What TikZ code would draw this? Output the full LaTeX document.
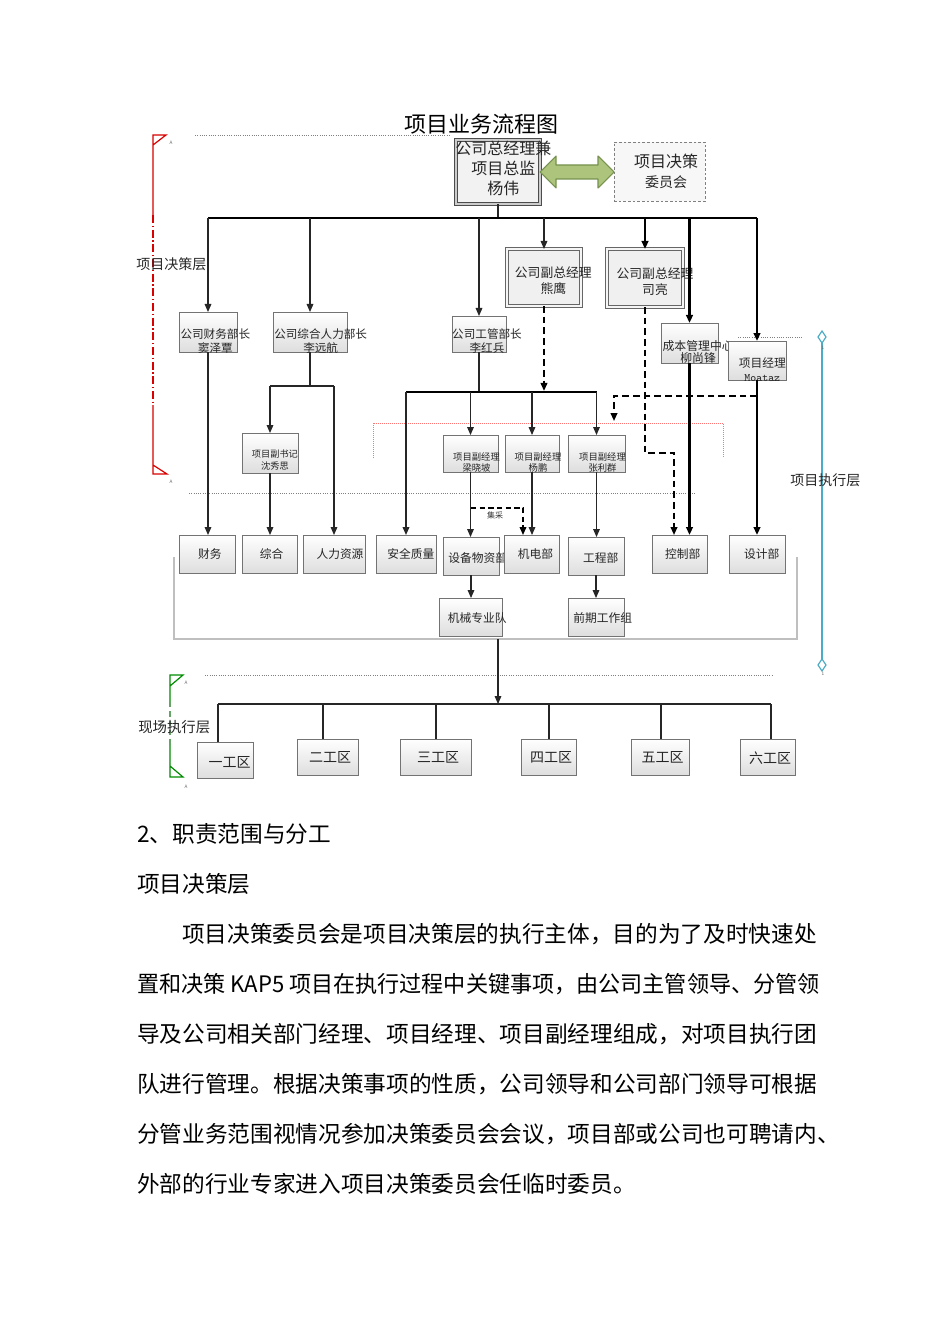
\documentclass[tikz,border=0pt]{standalone}
\usepackage{fontspec}
\setmainfont{Noto Sans CJK SC}
\usetikzlibrary{arrows.meta,fit,calc}
\definecolor{skyline}{RGB}{75,172,198}
\definecolor{olivefill}{RGB}{172,196,124}
\definecolor{olivedraw}{RGB}{118,146,78}
\newcommand\fs[2]{\fontsize{#1}{#2}\selectfont}
% style, name, x1, y1, x2, y2, label options, text
\newcommand\mkbox[8]{\node[#1, fit={(#3,#4)(#5,#6)}, label={[lbl,#7]center:#8}] (#2) {};}
\begin{document}
\begin{tikzpicture}[x=0.75pt,y=-0.75pt,
  box/.style={draw=black!55, line width=0.7pt, top color=white, bottom color=black!13, inner sep=0pt, outer sep=0pt},
  dbox/.style={draw=black!60, line width=0.6pt, double=black!4, double distance=1.5pt, fill=black!6, inner sep=0pt, outer sep=0pt},
  gbox/.style={draw=black!70, line width=1.1pt, double=black!20, double distance=1pt, fill=black!5, inner sep=0pt, outer sep=0pt},
  cbox/.style={draw=black!50, line width=0.6pt, dash pattern=on 2pt off 1.5pt, fill=black!3, inner sep=0pt, outer sep=0pt},
  lbl/.style={align=center, text=black!85, inner sep=0pt},
  fA/.style={font=\fs{8.7}{10.5}},
  fB/.style={font=\fs{8.8}{10}},
  fC/.style={font=\fs{7}{8}},
  fW/.style={font=\fs{10.5}{12}},
  ln/.style={draw=black!85, line width=0.8pt},
  tk/.style={draw=black, line width=1.6pt},
  arr/.style={-{Triangle[length=6pt,width=5pt]}},
  dsh/.style={draw=black, line width=1.3pt, dash pattern=on 5pt off 3pt},
  dotl/.style={draw=black!50, line width=0.7pt, densely dotted},
  redc/.style={draw=red!85!black, line width=0.9pt},
  grc/.style={draw=green!55!black, line width=0.9pt},
  bluec/.style={draw=skyline, line width=0.9pt},
  tiny/.style={font=\fs{3.5}{4}, text=black!60, inner sep=0pt},
  layer/.style={anchor=west, inner sep=0pt, text=black!85},
  body/.style={anchor=west, inner sep=0pt, font=\fs{17}{20}}
]
\fill[white] (0,0) rectangle (950,1344);
\useasboundingbox (0,0) rectangle (950,1344);

% ---------- guide lines ----------
\draw[dotl] (195,135) -- (450,135);
\draw[dotl] (738,337) -- (803,337);
\draw[dotl] (189,493) -- (695,493);
\draw[dotl] (205,675) -- (772,675);
\draw[red!55, line width=0.5pt, densely dotted] (373,458) -- (373,423) -- (723,423) -- (723,458);
\draw[black!25, line width=1pt] (174,557) -- (174,639) -- (797,639) -- (797,557);

% red bracket
\draw[redc] (153,215) -- (153,135) -- (166,135) -- (153,145);
\draw[redc, dash pattern=on 6pt off 2pt on 1pt off 2pt] (153,215) -- (153,405);
\draw[redc] (153,405) -- (153,474) -- (167,474) -- (153,465);
\node[tiny] at (171,143) {A};
\node[tiny] at (171,482) {A};
% green bracket
\draw[grc] (170,702) -- (170,675) -- (183,675) -- (170,686);
\draw[grc, dash pattern=on 4pt off 3pt, draw=green!40!black!60] (170,702) -- (170,745);
\draw[grc] (170,745) -- (170,777) -- (183,777) -- (170,766);
\node[tiny] at (186,683) {A};
\node[tiny] at (186,787) {A};
% blue bracket
\draw[bluec] (822,343) -- (822,659);
\draw[bluec, fill=white] (822,331) -- (826,337) -- (822,343) -- (818,337) -- cycle;
\draw[bluec, fill=white] (822,659) -- (826,665) -- (822,671) -- (818,665) -- cycle;
\node[tiny] at (823,348) {1};
\node[tiny] at (823,674) {1};

% layer labels
\node[layer, font=\fs{10.5}{12}] (lay1) at (136,264) {项目决策层};
\node[layer, font=\fs{10.5}{12}] (lay2) at (790,480) {项目执行层};
\node[layer, font=\fs{10.8}{12}] (lay3) at (138,727) {现场执行层};

% title
\node[inner sep=0pt, font=\fs{16.5}{18}] (title) at (481,124) {项目业务流程图};

% ---------- boxes ----------
\mkbox{gbox}{gm}{456}{140}{540}{204}{font=\fs{12}{15},xshift=4pt,yshift=3pt}{公司总经理兼\\项目总监\\杨伟}
\mkbox{cbox}{cmt}{614}{142}{705}{201}{font=\fs{12}{15.5},xshift=5pt}{项目决策\\{\fs{10.5}{15.5}委员会}}

\mkbox{box}{fin}{179}{312}{237}{352}{fA,xshift=5.5pt,yshift=-6.5pt}{公司财务部长\\窦泽覃}
\mkbox{box}{hr}{273}{312}{347}{352}{fA,xshift=8pt,yshift=-6.5pt}{公司综合人力部长\\李远航}
\mkbox{box}{gg}{452}{316}{506}{352}{fA,xshift=6pt,yshift=-5.5pt}{公司工管部长\\李红兵}
\mkbox{dbox}{xy}{507}{249}{581}{306}{font=\fs{9.6}{12},xshift=7pt,yshift=-2.5pt}{公司副总经理\\熊鹰}
\mkbox{dbox}{sl}{607}{249}{683}{307}{font=\fs{9.6}{12},xshift=7.5pt,yshift=-2.5pt}{公司副总经理\\司亮}
\mkbox{box}{cb}{661}{323}{718}{363}{font=\fs{8.9}{9},xshift=6.5pt,yshift=-6.5pt}{成本管理中心\\柳尚锋}
\mkbox{box}{pm}{728}{341}{786}{380}{font=\fs{8.8}{10.5},xshift=4pt,yshift=-6.5pt}{项目经理\\{\ttfamily\fs{8.5}{10.5}Moataz}}

\mkbox{box}{sj}{242}{433}{298}{473}{font=\fs{6.9}{9},xshift=3.7pt,yshift=-5pt}{项目副书记\\沈秀思}
\mkbox{box}{lx}{443}{435}{498}{472}{fC,xshift=4.5pt,yshift=-6.5pt}{项目副经理\\梁晓坡}
\mkbox{box}{yp}{505}{435}{559}{472}{fC,xshift=4.5pt,yshift=-6.5pt}{项目副经理\\杨鹏}
\mkbox{box}{zl}{568}{435}{625}{472}{fC,xshift=4.5pt,yshift=-6.5pt}{项目副经理\\张利群}

\mkbox{box}{cw}{179}{535}{235}{573}{fB,xshift=2.2pt}{财务}
\mkbox{box}{zh}{242}{535}{297}{573}{fB,xshift=1.5pt}{综合}
\mkbox{box}{rl}{303}{535}{365}{573}{fB,xshift=4.5pt}{人力资源}
\mkbox{box}{aq}{376}{535}{436}{573}{fB,xshift=3.7pt}{安全质量}
\mkbox{box}{sb}{443}{537}{499}{575}{fB,xshift=5pt,yshift=-1.5pt}{设备物资部}
\mkbox{box}{jd}{504}{535}{559}{573}{fB,xshift=3pt}{机电部}
\mkbox{box}{gc}{568}{537}{624}{575}{fB,xshift=3.5pt,yshift=-1.5pt}{工程部}
\mkbox{box}{kz}{652}{535}{707}{573}{fB,xshift=2.5pt}{控制部}
\mkbox{box}{sjb}{729}{535}{785}{573}{fB,xshift=3.5pt}{设计部}
\mkbox{box}{jx}{439}{598}{502}{636}{fB,xshift=5pt,yshift=-1pt}{机械专业队}
\mkbox{box}{qq}{568}{598}{624}{636}{fB,xshift=5pt,yshift=-1pt}{前期工作组}

\mkbox{box}{w1}{197}{742}{253}{778}{fW,xshift=3.5pt,yshift=-1.5pt}{一工区}
\mkbox{box}{w2}{297}{739}{358}{775}{fW,xshift=2pt,yshift=-0.5pt}{二工区}
\mkbox{box}{w3}{400}{739}{471}{775}{fW,xshift=2pt,yshift=-0.5pt}{三工区}
\mkbox{box}{w4}{521}{739}{576}{775}{fW,xshift=2pt,yshift=-0.5pt}{四工区}
\mkbox{box}{w5}{631}{739}{689}{775}{fW,xshift=2pt,yshift=-0.5pt}{五工区}
\mkbox{box}{w6}{740}{739}{795}{775}{fW,xshift=2pt,yshift=-0.5pt}{六工区}

% ---------- connectors ----------
% green double arrow
\draw[draw=olivedraw, fill=olivefill, line width=0.8pt, line join=round]
  (gm.east) -- ++(16,-16) -- ++(0,9) -- ++(42,0) -- ++(0,-9) -- ++(16,16)
  -- ++(-16,16) -- ++(0,-9) -- ++(-42,0) -- ++(0,9) -- cycle;

\coordinate (t0) at (498,218);
\coordinate (tL) at (208,218);
\coordinate (tR) at (757,218);
\draw[ln] (gm.south) -- (t0);
\draw[tk] (tL) -- (tR);
\draw[ln,arr] (fin.north |- t0) -- (fin.north);
\draw[ln,arr] (hr.north |- t0) -- (hr.north);
\draw[ln,arr] (gg.north |- t0) -- (gg.north);
\draw[ln,arr] (xy.north |- t0) -- (xy.north);
\draw[tk,arr] (sl.north |- t0) -- (sl.north);
\draw[tk,arr] (cb.north |- t0) -- (cb.north);
\draw[tk,arr] (pm.north |- t0) -- (pm.north);

\draw[ln,arr] (fin.south) -- (fin.south |- cw.north);

\coordinate (hb) at (310,386);
\draw[ln] (hr.south) -- (hr.south |- hb);
\draw[ln] (sj.north |- hb) -- (rl.north |- hb);
\draw[ln,arr] (sj.north |- hb) -- (sj.north);
\draw[ln,arr] (rl.north |- hb) -- (rl.north);
\draw[ln,arr] (sj.south) -- (sj.south |- zh.north);

\coordinate (gb) at (479,392);
\draw[ln] (gg.south) -- (gg.south |- gb);
\draw[tk] (aq.north |- gb) -- (zl.north |- gb);
\draw[ln,line width=1.1pt,arr] (aq.north |- gb) -- (aq.north);
\draw[ln,arr] (lx.north |- gb) -- (lx.north);
\draw[ln,arr] (yp.north |- gb) -- (yp.north);
\draw[ln,arr] (zl.north |- gb) -- (zl.north);
\draw[dsh,arr,shorten >=0.8pt] (xy.south) -- (xy.south |- gb);

\draw[ln,arr] (lx.south) -- (lx.south |- sb.north);
\coordinate (jc) at (471,508);
\coordinate (jc2) at (523,508);
\draw[dsh,line width=1.1pt,dash pattern=on 4pt off 2.5pt,arr] (jc) -- (jc2) -- (jc2 |- jd.north);
\node[inner sep=0pt, font=\fs{6}{7}, text=black!80] (jcl) at (495,515) {集采};
\draw[ln,arr] (yp.south) -- (yp.south |- jd.north);
\draw[ln,arr] (zl.south) -- (zl.south |- gc.north);
\draw[ln,arr] (sb.south) -- (sb.south |- jx.north);
\draw[ln,arr] (gc.south) -- (gc.south |- qq.north);

\coordinate (sd1) at (645,453);
\coordinate (sd2) at (674,453);
\draw[dsh,arr] (sl.south) -- (sl.south |- sd1) -- (sd2) -- (sd2 |- kz.north);
\draw[tk,arr] (cb.south) -- (cb.south |- kz.north);
\draw[tk,arr] (pm.south) -- (pm.south |- sjb.north);
\coordinate (md1) at (757,396);
\coordinate (md2) at (614,396);
\coordinate (md3) at (614,421);
\draw[dsh,arr] (md1) -- (md2) -- (md3);

\coordinate (gb2) at (498,639);
\coordinate (hc) at (498,704);
\draw[ln,arr] (gb2) -- (hc);
\coordinate (h1) at (218,704);
\coordinate (h2) at (323,704);
\coordinate (h3) at (436,704);
\coordinate (h4) at (549,704);
\coordinate (h5) at (661,704);
\coordinate (h6) at (771,704);
\draw[ln] (h1) -- (h6);
\draw[ln] (h1) -- (h1 |- w1.north);
\draw[ln] (h2) -- (h2 |- w2.north);
\draw[ln] (h3) -- (h3 |- w3.north);
\draw[ln] (h4) -- (h4 |- w4.north);
\draw[ln] (h5) -- (h5 |- w5.north);
\draw[ln] (h6) -- (h6 |- w6.north);

% ---------- body text ----------
\node[body] (p0) at (137,834) {2、职责范围与分工};
\node[body] (p1) at (137,884) {项目决策层};
\node[body] (b1) at (182,934) {项目决策委员会是项目决策层的执行主体，目的为了及时快速处};
\node[body] (b2) at (137,984) {\scalebox{0.975}[1]{置和决策 KAP5 项目在执行过程中关键事项，由公司主管领导、分管领}};
\node[body] (b3) at (137,1034) {导及公司相关部门经理、项目经理、项目副经理组成，对项目执行团};
\node[body] (b4) at (137,1084) {队进行管理。根据决策事项的性质，公司领导和公司部门领导可根据};
\node[body] (b5) at (137,1134) {分管业务范围视情况参加决策委员会会议，项目部或公司也可聘请内、};
\node[body] (b6) at (137,1184) {外部的行业专家进入项目决策委员会任临时委员。};
\end{tikzpicture}
\end{document}
